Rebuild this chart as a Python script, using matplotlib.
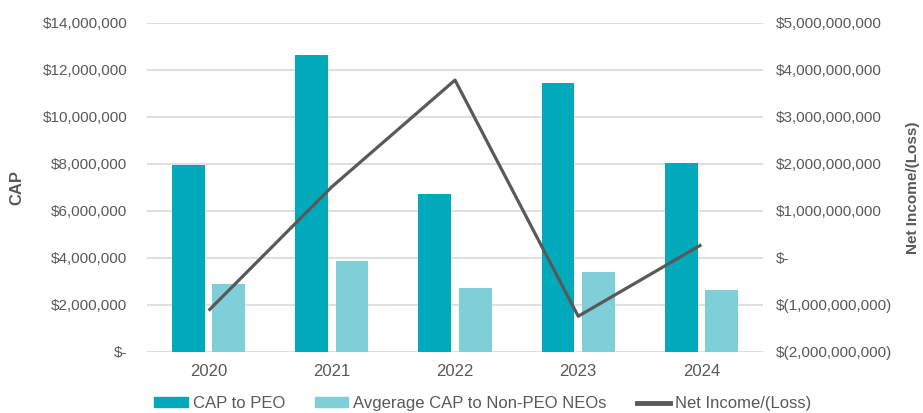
import numpy as np
import matplotlib
matplotlib.use("Agg")
import matplotlib.pyplot as plt
from matplotlib.patches import Patch
from matplotlib.lines import Line2D

plt.rcParams['font.family'] = ['Liberation Sans', 'DejaVu Sans']

years = ['2020', '2021', '2022', '2023', '2024']
cap_peo = [7.95e6, 12.63e6, 6.72e6, 11.44e6, 8.04e6]
cap_neo = [2.89e6, 3.87e6, 2.72e6, 3.40e6, 2.64e6]
net_income = [-1.12e9, 1.51e9, 3.78e9, -1.24e9, 0.28e9]

c_peo = '#00AABB'
c_neo = '#7ECFD8'
c_line = '#595959'
c_text = '#595959'
c_grid = '#D9D9D9'


def money(v, pos=None):
    if v == 0:
        return '$-'
    if v < 0:
        return '$({:,.0f})'.format(-v)
    return '${:,.0f}'.format(v)


fig = plt.figure(figsize=(9.23, 4.13), dpi=100)
ax = fig.add_axes([147/923, 1-352/413, (763-147)/923, (352-22.7)/413])
ax2 = ax.twinx()

x = np.arange(len(years))
w = 0.265
ax.bar(x - 0.164, cap_peo, w, color=c_peo, zorder=2)
ax.bar(x + 0.164, cap_neo, w, color=c_neo, zorder=2)
ax2.plot(x, net_income, color=c_line, lw=2.3, solid_capstyle='butt', zorder=3)

ax.set_xlim(-0.5, 4.5)
ax.set_ylim(0, 14e6)
ax.set_yticks(np.arange(0, 14e6 + 1, 2e6))
ax.yaxis.set_major_formatter(plt.FuncFormatter(money))
ax2.set_ylim(-2e9, 5e9)
ax2.set_yticks(np.arange(-2e9, 5e9 + 1, 1e9))
ax2.yaxis.set_major_formatter(plt.FuncFormatter(money))
ax.set_xticks(x)
ax.set_xticklabels(years)

ax.grid(axis='y', color=c_grid, lw=1.2, zorder=0)
ax.set_axisbelow(True)
for a in (ax, ax2):
    for s in a.spines.values():
        s.set_visible(False)
ax.tick_params(axis='y', length=0, pad=14, labelsize=11, labelcolor=c_text)
ax.tick_params(axis='x', length=0, pad=9, labelsize=12, labelcolor=c_text)
ax2.tick_params(axis='y', length=0, pad=9.5, labelsize=11, labelcolor=c_text)

mid = 0.5 * ((1-352/413) + (1-22.7/413))
fig.text(17/923, mid, 'CAP', rotation=90,
         ha='center', va='center', fontsize=12, fontweight='bold', color=c_text)
fig.text(913/923, mid, 'Net Income/(Loss)', rotation=90,
         ha='center', va='center', fontsize=11, fontweight='bold', color=c_text)

handles = [Patch(color=c_peo, label='CAP to PEO'),
           Patch(color=c_neo, label='Avgerage CAP to Non-PEO NEOs'),
           Line2D([0], [0], color=c_line, lw=3.5, label='Net Income/(Loss)')]
fig.legend(handles=handles, loc='center', bbox_to_anchor=(483/923, 1-403.5/413),
           ncol=3, frameon=False, fontsize=12, labelcolor=c_text,
           handlelength=2.0, handleheight=0.5, handletextpad=0.3,
           columnspacing=1.8, borderpad=0, borderaxespad=0)

fig.savefig('out.png', dpi=100)
